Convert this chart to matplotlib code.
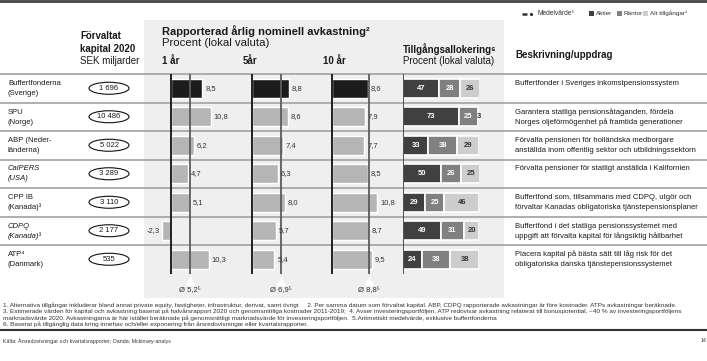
import numpy as np
import matplotlib.pyplot as plt
from matplotlib.patches import Rectangle, Ellipse

plt.rcParams['font.family'] = ['Liberation Sans', 'DejaVu Sans']
plt.rcParams['text.color'] = '#1a1a1a'

# data
funds = ["Buffertfonderna\n(Sverige)", "SPU\n(Norge)", "ABP (Neder-\nländerna)", "CalPERS\n(USA)",
         "CPP IB\n(Kanada)³", "CDPQ\n(Kanada)³", "ATP⁴\n(Danmark)"]
fund_italic = [False, False, False, True, False, True, False]
capital = [1696, 10486, 5022, 3289, 3110, 2177, 535]

periods = ['1 år', '5år', '10 år']
ret_1y = [8.5, 10.8, 6.2, 4.7, 5.1, -2.3, 10.3]
ret_5y = [8.8, 8.6, 7.4, 6.3, 8.0, 5.7, 5.4]
ret_10y = [8.6, 7.9, 7.7, 8.5, 10.8, 8.7, 9.5]
ret_means = [5.2, 6.9, 8.8]

aktier = [47, 73, 33, 50, 29, 49, 24]
rantor = [28, 25, 38, 26, 25, 31, 38]
alt = [26, 3, 29, 25, 46, 20, 38]
alloc_names = ['Aktier', 'Räntor', 'Alt tillgångar¹']

descriptions = [
    "Buffertfonder i Sveriges inkomstpensionssystem",
    "Garantera statliga pensionsåtaganden, fördela\nNorges oljeförmögenhet på framtida generationer",
    "Förvalta pensionen för holländska medborgare\nanställda inom offentlig sektor och utbildningssektorn",
    "Förvalta pensioner för statligt anställda i Kalifornien",
    "Buffertfond som, tillsammans med CDPQ, utgör och\nförvaltar Kanadas obligatoriska tjänstepensionsplaner",
    "Buffertfond i det statliga pensionssystemet med\nuppgift att förvalta kapital för långsiktig hållbarhet",
    "Placera kapital på bästa sätt till låg risk för det\nobligatoriska danska tjänstepensionssystemet",
]

footnotes = [
    "1. Alternativa tillgångar inkluderar bland annat private equity, fastigheter, infrastruktur, derivat, samt övrigt     "
    "2. Per samma datum som förvaltat kapital. ABP, CDPQ rapporterade avkastningar är före kostnader. ATPs avkastningar beräknade.",
    "3. Estimerade värden för kapital och avkastning baserat på halvårsrapport 2020 och genomsnittliga kostnader 2011-2019;  "
    "4. Avser investeringsportföljen. ATP redovisar avkastning relaterat till bonuspotential, ~40 % av investeringsportföljens",
    "marknadsvärde 2020. Avkastningarna är här istället beräknade på genomsnittligt marknadsvärde för investeringsportföljen.  "
    "5.Aritmetiskt medelvärde, exklusive buffertfonderna",
    "6. Baserat på tillgänglig data kring innehav och/eller exponering från årsredovisningar eller kvartalsrapporter.",
]
source = "Källa: Årsredovisningar och kvartalsrapporter; Oanda; Mckinsey-analys"

# layout (pixels)
W, H = 707, 361
ROW_TOP, ROW_H = 74, 28.5
n = len(funds)
rows = np.arange(n)
ROW_BOT = ROW_TOP + n * ROW_H
FS = 5.5

fig = plt.figure(figsize=(W / 100, H / 100), dpi=100)


def axes_px(x0, y0, x1, y1):
    ax = fig.add_axes([x0 / W, 1 - y1 / H, (x1 - x0) / W, (y1 - y0) / H])
    ax.set_axis_off()
    return ax


def px_to_row(y):
    return (y - ROW_TOP) / ROW_H - 0.5


bg = axes_px(0, 0, W, H)
bg.set_xlim(0, W)
bg.set_ylim(H, 0)
bg.add_patch(Rectangle((144, 20), 360, 278, fc='#efefef', ec='none', zorder=0))
bg.plot([0, W], [1, 1], color='#444444', lw=2)
bg.plot([0, W], [330, 330], color='#333333', lw=1.5)

# headers
bg.text(80, 36, "Förvaltat", fontsize=7, fontweight='bold', va='center')
bg.text(80, 48.5, "kapital 2020", fontsize=7, fontweight='bold', va='center')
bg.text(80, 60.5, "SEK miljarder", fontsize=7, va='center')
bg.text(162, 31.5, "Rapporterad årlig nominell avkastning²", fontsize=8, fontweight='bold', va='center')
bg.text(162, 43.5, "Procent (lokal valuta)", fontsize=8.2, va='center')
for lab, x in zip(periods, [162, 243, 323]):
    bg.text(x, 60.5, lab, fontsize=7, fontweight='bold', va='center')
bg.text(403, 49, "Tillgångsallokering⁶", fontsize=7, fontweight='bold', va='center')
bg.text(403, 60.5, "Procent (lokal valuta)", fontsize=7, va='center')
bg.text(515, 55, "Beskrivning/uppdrag", fontsize=7, fontweight='bold', va='center')

# legend
alloc_colors = ['#404040', '#808080', '#cdcdcd']
alloc_text = ['white', 'white', '#333333']
bg.plot([522, 527], [13.5, 13.5], color='#333333', lw=1.8, solid_capstyle='butt')
bg.plot([530.5], [13.5], marker='o', ms=1.3, color='#333333')
bg.text(538, 13.5, "Medelvärde⁵", fontsize=4.8, va='center', color='#333333')
for lab, col, x in zip(alloc_names, alloc_colors, [589, 617, 643]):
    bg.add_patch(Rectangle((x, 11), 5, 5, fc=col, ec='none'))
    bg.text(x + 6.5, 13.5, lab, fontsize=4.6, va='center', color='#333333')

# footnotes
for k, line in enumerate(footnotes):
    bg.text(3, 305.5 + k * 6.1, line, fontsize=4.55, va='center', color='#333333')
bg.text(3, 341, source, fontsize=3.8, va='center', color='#333333')
bg.text(701, 341, "14", fontsize=3.8, va='center', color='#333333')

# table grid
grid = axes_px(0, ROW_TOP, W, ROW_BOT)
grid.set_xlim(0, W)
grid.set_ylim(n - 0.5, -0.5)
for y in np.arange(-0.5, n - 1):
    grid.axhline(y, color='#a8a8a8', lw=1.3, zorder=1, clip_on=False)


def multiline(ax, x, i, text, **kw):
    for k, line in enumerate(text.split('\n')):
        ax.text(x, px_to_row(ROW_TOP + i * ROW_H + 9.5 + k * 10), line, va='center', **kw)


for i in rows:
    multiline(grid, 8, i, funds[i], fontsize=FS, style='italic' if fund_italic[i] else 'normal')
    multiline(grid, 515, i, descriptions[i], fontsize=FS)
    grid.add_patch(Ellipse((109, i), 40, 12 / ROW_H, fc='white', ec='#111111', lw=0.8, zorder=2))
    grid.text(109, i, f"{capital[i]:,}".replace(',', ' '), fontsize=FS, ha='center', va='center', zorder=3)


def panel(zero_px, px_per_unit, lo, hi):
    ax = axes_px(zero_px + lo * px_per_unit, ROW_TOP, zero_px + hi * px_per_unit, ROW_BOT)
    ax.set_xlim(lo, hi)
    ax.set_ylim(n - 0.5, -0.5)
    return ax


def fmt(v):
    return f"{v:.1f}".replace('.', ',')


bar_colors = ['#1c1c1c'] + ['#b5b5b5'] * (n - 1)
specs = [(ret_1y, 171, 3.7, -3.5, 12), (ret_5y, 252, 4.16, -1, 11), (ret_10y, 332.3, 4.17, -1, 12)]
for (vals, zero, scale, lo, hi), mean in zip(specs, ret_means):
    ax = panel(zero, scale, lo, hi)
    ax.barh(rows, vals, height=0.68, color=bar_colors, edgecolor='white', linewidth=1.0, zorder=2)
    ax.axvline(0, color='#111111', lw=1.3, zorder=3)
    ax.axvline(mean, color='#5c5c5c', lw=1.3, zorder=3)
    for i, v in enumerate(vals):
        if v >= 0:
            ax.annotate(fmt(v), (v, i), xytext=(2, 0), textcoords='offset points',
                        ha='left', va='center', fontsize=FS, color='#333333', zorder=4)
        else:
            ax.annotate(fmt(v), (v, i), xytext=(-2, 0), textcoords='offset points',
                        ha='right', va='center', fontsize=FS, color='#333333', zorder=4)
    ax.plot([mean], [px_to_row(280.5)], marker='^', ms=6, color='white', clip_on=False, zorder=4)
    ax.text(mean, px_to_row(291), f"Ø {fmt(mean)}⁵", ha='center', va='center', fontsize=FS, color='#333333')

# allocation
al = panel(403.3, 0.76, 0, 100)
left = np.zeros(n)
for vals, col, tcol in zip([aktier, rantor, alt], alloc_colors, alloc_text):
    vals = np.array(vals)
    al.barh(rows, vals, left=left, height=0.68, color=col, edgecolor='white', linewidth=1.2, zorder=2)
    for i in rows:
        al.text(left[i] + vals[i] / 2, i, str(vals[i]), ha='center', va='center',
                fontsize=FS, fontweight='bold', color=tcol, zorder=4)
    left = left + vals
al.axvline(0, color='#444444', lw=1.3, zorder=3)

fig.savefig('out.png', dpi=100)
